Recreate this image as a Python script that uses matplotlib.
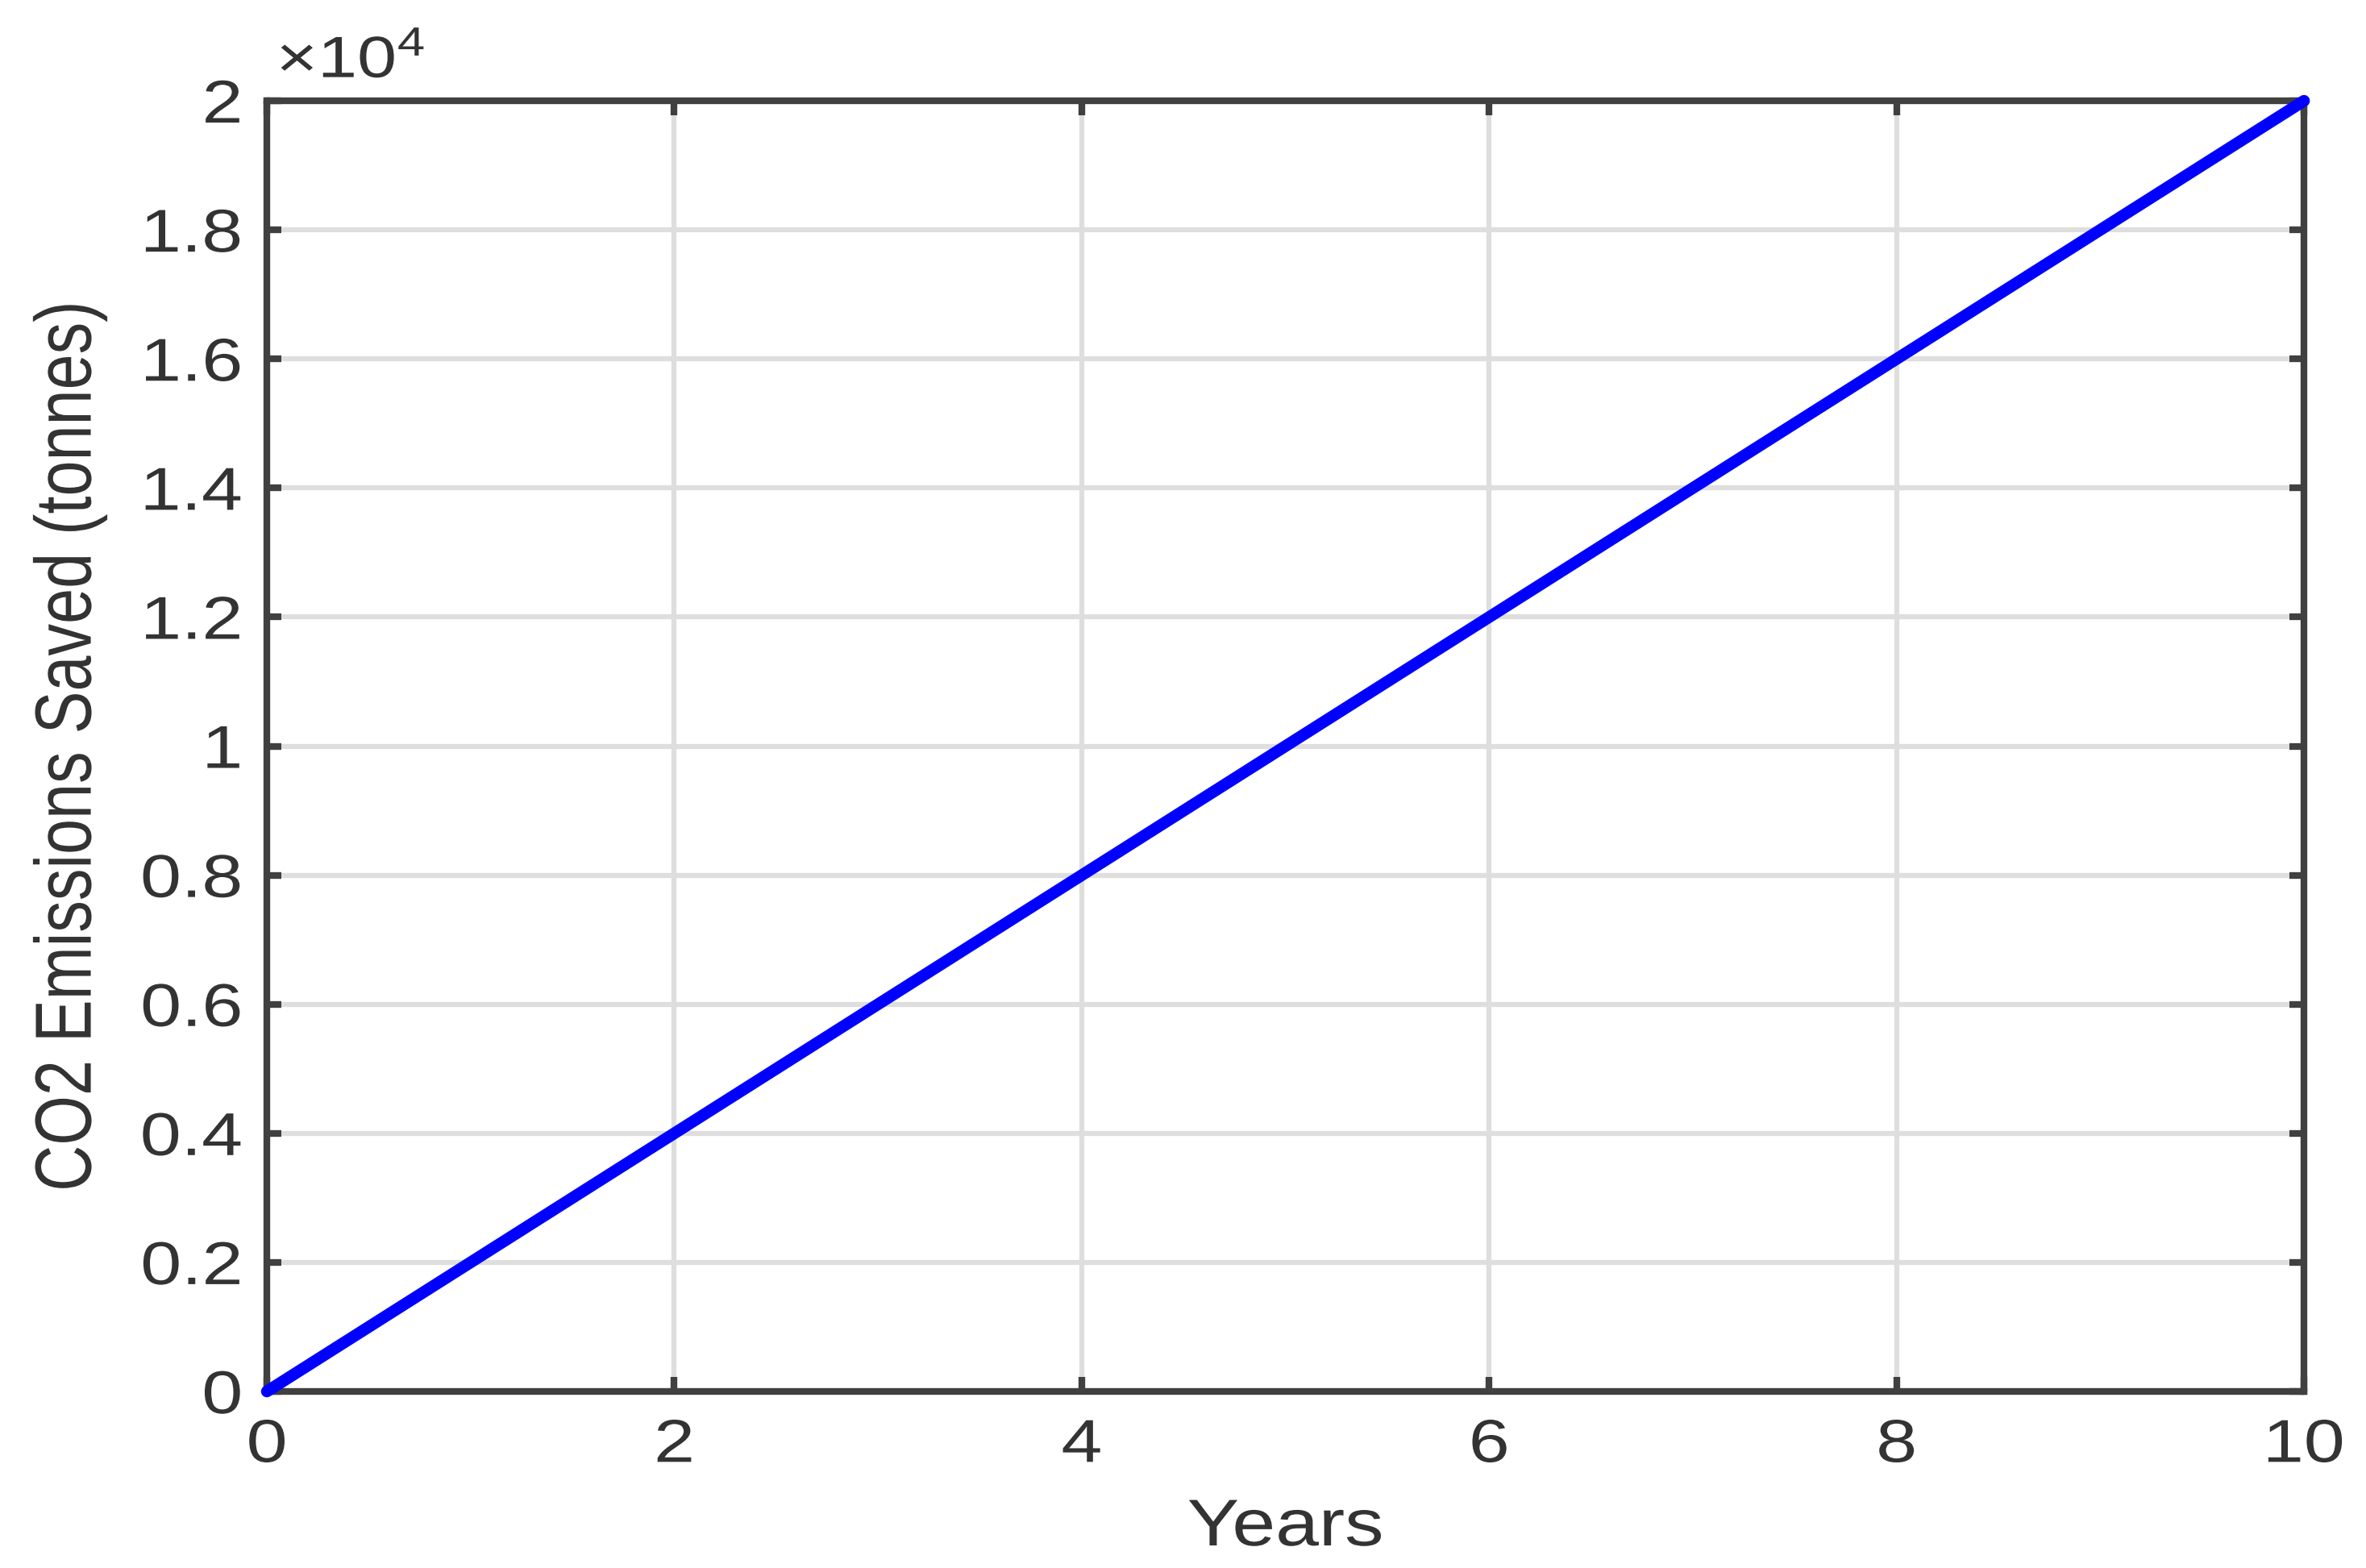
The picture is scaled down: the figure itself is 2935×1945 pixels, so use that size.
import matplotlib
matplotlib.use("Agg")
import matplotlib.pyplot as plt
from matplotlib import patheffects
from matplotlib.transforms import Affine2D
from matplotlib.ticker import FuncFormatter

# data
years = [0, 1, 2, 3, 4, 5, 6, 7, 8, 9, 10]
co2_saved = [0, 2000, 4000, 6000, 8000, 10000, 12000, 14000, 16000, 18000, 20000]

x_ticks = [0, 2, 4, 6, 8, 10]
y_ticks = [0, 2000, 4000, 6000, 8000, 10000, 12000, 14000, 16000, 18000, 20000]


# the source image is a little wider than tall, so text glyphs look stretched
class StretchX(patheffects.AbstractPathEffect):
    def __init__(self, sx, anchor='center'):
        super().__init__((0, 0))
        self.sx = sx
        self.anchor = anchor

    def draw_path(self, renderer, gc, tpath, affine, rgbFace=None):
        bb = tpath.get_extents(affine)
        if self.anchor == 'left':
            x0 = bb.x0
        elif self.anchor == 'right':
            x0 = bb.x1
        else:
            x0 = (bb.x0 + bb.x1) / 2
        t = affine + Affine2D().translate(-x0, 0).scale(self.sx, 1).translate(x0, 0)
        renderer.draw_path(gc, tpath, t, rgbFace)


plt.rcParams['font.family'] = ['Liberation Sans', 'DejaVu Sans']
plt.rcParams['mathtext.fontset'] = 'custom'
plt.rcParams['mathtext.rm'] = 'Liberation Sans'
plt.rcParams['mathtext.default'] = 'regular'

text_col = '#333333'
axis_col = '#404040'
sx = 1.22

fig = plt.figure(figsize=(29.35, 19.45), dpi=100)
ax = fig.add_axes([0.1128, 0.1126, 0.861, 0.8231])

ax.plot(years, co2_saved, color='#0000ff', linewidth=10.5, solid_capstyle='round', zorder=5, clip_on=False)

ax.set_xlim(0, 10)
ax.set_ylim(0, 20000)
ax.set_xticks(x_ticks)
ax.set_yticks(y_ticks)
ax.yaxis.set_major_formatter(FuncFormatter(lambda v, p: f"{v / 1e4:g}"))

ax.grid(True, color='#dedede', linewidth=4.5)
ax.set_axisbelow(True)

for s in ax.spines.values():
    s.set_linewidth(6)
    s.set_color(axis_col)

ax.tick_params(direction='in', length=13, width=6, color=axis_col,
               top=True, right=True, labelsize=54, labelcolor=text_col)
ax.tick_params(axis='x', pad=24)
ax.tick_params(axis='y', pad=22)

plt.setp(ax.get_xticklabels(), path_effects=[StretchX(sx, 'center')])
plt.setp(ax.get_yticklabels(), path_effects=[StretchX(sx, 'right')])

ax.set_xlabel('Years', fontsize=59, color=text_col, va='baseline',
              path_effects=[StretchX(1.18, 'center')])
ax.xaxis.set_label_coords(0.5, -0.1193)
ax.set_ylabel('CO2 Emissions Saved (tonnes)', fontsize=57, color=text_col, va='center',
              path_effects=[StretchX(1.25, 'center')])
ax.yaxis.set_label_coords(-0.0966, 0.5)

# exponent label like MATLAB
ax.text(0.005, 1.018, r'$\times10^{4}$', transform=ax.transAxes, fontsize=52,
        color=text_col, ha='left', va='baseline', path_effects=[StretchX(sx, 'left')])

fig.savefig('out.png', dpi=100, facecolor='white')
